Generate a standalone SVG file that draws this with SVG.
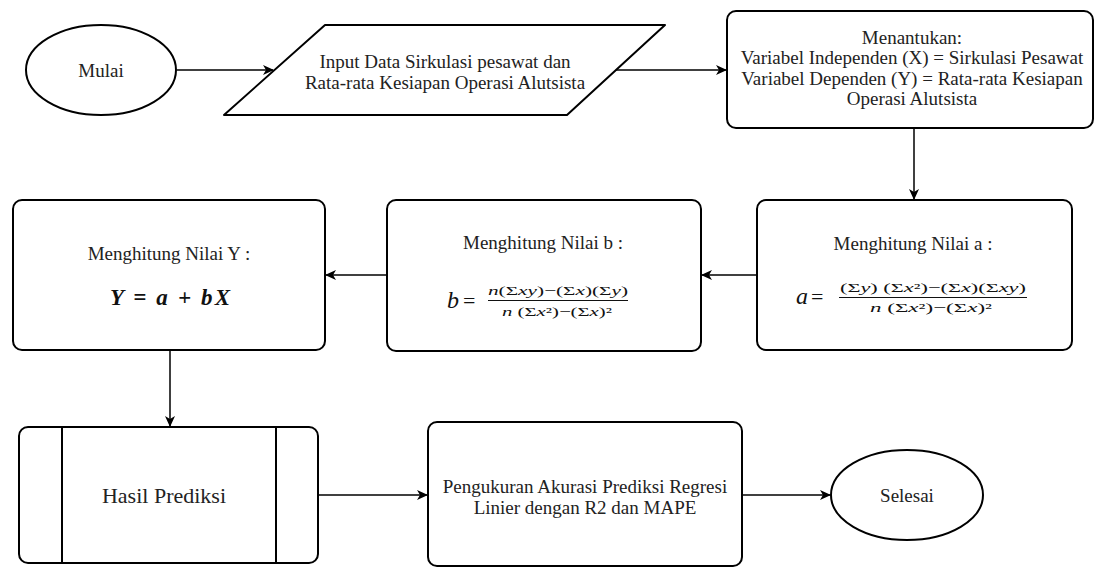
<svg xmlns="http://www.w3.org/2000/svg" width="1095" height="568" viewBox="0 0 1095 568">
<style>
.shape{fill:#ffffff;stroke:#000000;stroke-width:2}
.conn{fill:none;stroke:#000000;stroke-width:1.5}
.t{font-family:"Liberation Serif","Times New Roman",serif;font-size:19px;fill:#222222;text-anchor:middle}
.big{font-size:22px}
.m{font-family:"Liberation Serif","Times New Roman",serif;fill:#111111}
.i{font-style:italic}
.f{font-family:"Liberation Serif","Times New Roman",serif;font-size:13px;fill:#111111;text-anchor:middle}
</style>
<defs>
<marker id="arr" markerWidth="12" markerHeight="10" refX="10" refY="5" orient="auto" markerUnits="userSpaceOnUse">
<path d="M0,0 L11,5 L0,10 L3,5 z" fill="#000000"/>
</marker>
</defs>
<rect width="1095" height="568" fill="#ffffff"/>
<g id="connectors">
<line class="conn" x1="177" y1="70" x2="273" y2="70" marker-end="url(#arr)"/>
<line class="conn" x1="616" y1="70" x2="726" y2="70" marker-end="url(#arr)"/>
<line class="conn" x1="914" y1="128" x2="914" y2="199" marker-end="url(#arr)"/>
<line class="conn" x1="757" y1="275" x2="702" y2="275" marker-end="url(#arr)"/>
<line class="conn" x1="387" y1="275" x2="326" y2="275" marker-end="url(#arr)"/>
<line class="conn" x1="170" y1="350" x2="170" y2="426" marker-end="url(#arr)"/>
<line class="conn" x1="318" y1="495" x2="427" y2="495" marker-end="url(#arr)"/>
<line class="conn" x1="742" y1="495" x2="830" y2="495" marker-end="url(#arr)"/>
</g>
<g id="mulai">
<ellipse class="shape" cx="101" cy="70" rx="75" ry="45"/>
<text class="t" x="101" y="77">Mulai</text>
</g>
<g id="input">
<path class="shape" d="M325,25 L665,25 L567,115 L224,115 Z" stroke-linejoin="round"/>
<text class="t" x="445" y="68">Input Data Sirkulasi pesawat dan</text>
<text class="t" x="445" y="89">Rata-rata Kesiapan Operasi Alutsista</text>
</g>
<g id="menentukan">
<rect class="shape" x="727" y="11" width="366" height="117" rx="9"/>
<text class="t" x="912" y="44">Menantukan:</text>
<text class="t" x="912" y="64">Variabel Independen (X) = Sirkulasi Pesawat</text>
<text class="t" x="912" y="85">Variabel Dependen (Y) = Rata-rata Kesiapan</text>
<text class="t" x="912" y="105">Operasi Alutsista</text>
</g>
<g id="nilai-a">
<rect class="shape" x="757" y="200" width="315" height="150" rx="9"/>
<text class="t" x="913" y="250">Menghitung Nilai a :</text>
<text class="m i" x="796" y="304" font-size="24">a</text>
<text class="m" x="811" y="304" font-size="22">=</text>
<text class="f" x="933" y="292" textLength="186" lengthAdjust="spacingAndGlyphs">(Σ<tspan class="i">y</tspan>) (Σ<tspan class="i">x</tspan>²)−(Σ<tspan class="i">x</tspan>)(Σ<tspan class="i">xy</tspan>)</text>
<line x1="839" y1="297.5" x2="1027" y2="297.5" stroke="#111111" stroke-width="1"/>
<text class="f" x="931" y="312" textLength="122" lengthAdjust="spacingAndGlyphs"><tspan class="i">n</tspan> (Σ<tspan class="i">x</tspan>²)−(Σ<tspan class="i">x</tspan>)²</text>
</g>
<g id="nilai-b">
<rect class="shape" x="387" y="200" width="314" height="151" rx="9"/>
<text class="t" x="543" y="249">Menghitung Nilai b :</text>
<text class="m i" x="447" y="308" font-size="24">b</text>
<text class="m" x="463" y="308" font-size="22">=</text>
<text class="f" x="558" y="295" textLength="140" lengthAdjust="spacingAndGlyphs"><tspan class="i">n</tspan>(Σ<tspan class="i">xy</tspan>)−(Σ<tspan class="i">x</tspan>)(Σ<tspan class="i">y</tspan>)</text>
<line x1="488" y1="300.5" x2="628" y2="300.5" stroke="#111111" stroke-width="1"/>
<text class="f" x="557" y="316" textLength="110" lengthAdjust="spacingAndGlyphs"><tspan class="i">n</tspan> (Σ<tspan class="i">x</tspan>²)−(Σ<tspan class="i">x</tspan>)²</text>
</g>
<g id="nilai-y">
<rect class="shape" x="13" y="200" width="312" height="150" rx="9"/>
<text class="t" x="169" y="260">Menghitung Nilai Y :</text>
<text class="m" x="110" y="305" font-size="23" font-weight="bold" font-style="italic" textLength="120" lengthAdjust="spacing">Y = a + bX</text>
</g>
<g id="hasil">
<rect class="shape" x="19" y="427" width="299" height="136" rx="9"/>
<line x1="62" y1="427" x2="62" y2="563" stroke="#000000" stroke-width="2"/>
<line x1="276" y1="427" x2="276" y2="563" stroke="#000000" stroke-width="2"/>
<text class="t big" x="164" y="503">Hasil Prediksi</text>
</g>
<g id="pengukuran">
<rect class="shape" x="428" y="422" width="314" height="144" rx="9"/>
<text class="t" x="585" y="493">Pengukuran Akurasi Prediksi Regresi</text>
<text class="t" x="585" y="514">Linier dengan R2 dan MAPE</text>
</g>
<g id="selesai">
<ellipse class="shape" cx="907" cy="495" rx="76" ry="45"/>
<text class="t" x="907" y="502">Selesai</text>
</g>
</svg>
